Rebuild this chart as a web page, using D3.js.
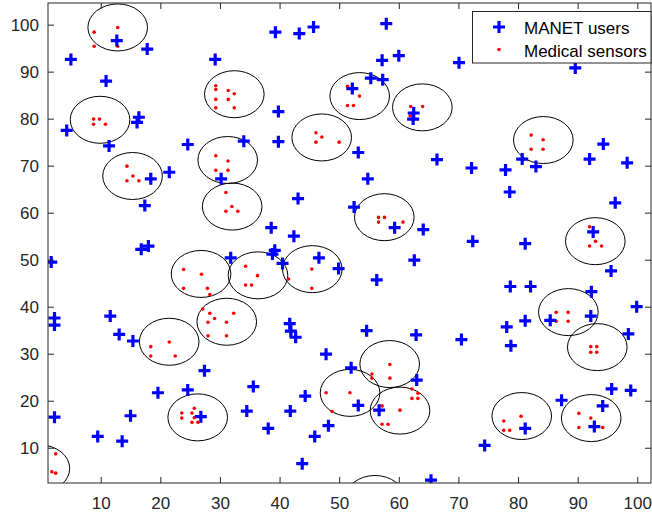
<!DOCTYPE html>
<html>
<head>
<meta charset="utf-8">
<script src="https://cdn.jsdelivr.net/npm/d3@7/dist/d3.min.js"></script>
<style>
  html, body { margin: 0; padding: 0; background: #fff; }
  svg { display: block; }
  text { font-family: "Liberation Sans", Arial, Helvetica, sans-serif; }
</style>
</head>
<body>
<svg id="chart" width="652" height="517"></svg>
<script>
// ---- data ----
const userX = [5.0,12.7,17.8,10.9,4.3,16.4,16.1,11.4,24.6,29.2,18.4,21.5,17.4,16.8,18.0,1.7,2.25,2.25,11.6,13.1,15.4,27.4,19.6,24.6,26.8,15.0,2.25,9.5,13.6,
  39.3,43.3,45.7,57.9,57.2,60.0,55.3,57.3,52.2,34.0,39.8,39.8,62.5,62.4,53.2,54.8,30.2,70.1,89.6,66.4,72.2,77.9,80.7,83.0,92.0,94.3,98.3,
  43.1,52.5,59.3,38.6,42.4,39.2,38.8,31.8,40.5,46.6,49.9,56.3,62.6,41.7,41.9,42.7,54.6,62.9,78.6,96.3,64.1,72.4,81.2,92.6,95.6,78.7,82.1,92.3,99.9,
  92.2,85.4,81.2,78.1,98.5,70.5,78.8,95.7,98.9,87.3,94.2,92.8,81.2,74.4,65.4,63.0,47.8,52.0,35.6,44.3,53.2,56.7,34.5,41.8,38.1,48.2,45.9,43.8];
const userY = [92.6,96.6,94.8,88.0,77.5,80.3,79.2,74.2,74.5,92.6,67.2,68.6,61.5,52.2,52.9,49.5,37.6,36.1,38.0,34.1,32.7,26.4,21.7,22.3,16.6,16.8,16.5,12.4,11.4,
  98.4,98.1,99.5,100.2,92.4,93.4,88.6,88.3,86.4,75.2,81.5,75.1,81.2,79.9,72.8,67.2,67.2,91.9,90.8,71.3,69.5,69.1,71.4,69.8,71.4,74.6,70.6,
  63.0,61.2,56.8,56.8,55.0,52.0,51.2,50.4,49.2,50.4,48.1,45.7,49.9,36.4,34.8,33.5,34.9,34.0,64.4,62.1,56.4,53.9,53.4,55.9,47.6,44.3,44.3,43.2,40.0,
  38.0,37.1,37.0,35.7,34.2,33.0,31.7,22.5,22.2,20.1,18.9,14.5,14.1,10.5,3.1,24.4,29.9,27.0,23.0,21.0,19.0,18.0,17.8,17.8,14.1,14.7,12.4,6.6];

const sensorX = [8.9,12.85,8.9,12.85, 8.8,9.8,8.8,10.8, 14.4,15.4,14.4,16.4,
  29.3,29.3,31.4,32.4,29.3,31.4,29.3,32.4, 29.3,31.35,29.3,31.35, 31.0,32.0,31.0,33.0,
  46.1,47.1,46.1,50.0, 51.4,53.4,51.4,52.4, 62.0,64.0,61.9, 82.2,84.2,82.2,84.2,
  56.6,57.6,56.6,60.7, 23.9,26.9,23.9,27.9,28.3, 34.3,36.3,34.3,35.3, 41.5,45.4,45.4,
  27.1,28.3,29.1,28.0,32.3,31.1,28.0,31.1, 18.4,21.5,18.4,22.5,
  23.6,25.7,23.6,25.3,25.7,25.3,26.3, 2.45,1.8,2.45, 47.8,51.8,48.8,
  58.5,55.5,55.5,58.5, 57.2,60.2,57.2,58.2,62.2,63.2,62.2,63.2,
  80.5,77.6,77.6,78.6, 90.2,92.2,90.2,94.2, 92.2,93.2,92.2,93.2,
  86.4,88.4,86.4,88.4, 92.0,93.0,92.0,94.0];
const sensorY = [98.4,99.4,95.4,95.4, 79.9,79.9,78.8,78.8, 69.9,67.8,66.8,66.8,
  87.0,86.2,86.0,85.3,84.1,84.1,82.3,82.3, 72.1,71.0,69.0,69.0, 64.3,61.3,60.3,60.3,
  77.0,76.1,75.0,75.0, 86.9,84.8,82.8,82.8, 82.6,82.6,80.6, 76.5,75.5,73.5,73.5,
  59.0,59.0,58.0,58.0, 47.9,46.9,43.9,43.9,42.6, 48.6,46.6,44.6,44.6, 45.9,48.0,43.9,
  39.5,38.6,37.5,36.7,38.6,36.7,33.8,33.8, 31.5,32.5,29.5,29.5,
  17.4,18.4,16.3,17.4,16.4,15.4,15.4, 8.7,4.9,4.6, 21.7,21.7,17.7,
  27.7,25.7,24.8,24.8, 18.9,18.0,15.0,15.0,22.5,21.6,20.5,20.5,
  16.7,15.7,13.7,13.7, 17.3,16.3,14.3,14.3, 31.5,31.5,30.3,30.3,
  38.8,38.8,36.9,36.9, 57.0,53.9,52.9,52.9];

const circleX = [12.85,9.89,15.34,32.41,31.3,32.05,47.07,53.44,63.95,84.24,57.57,26.83,36.38,45.49,31.14,21.49,26.27,-0.2,51.82,58.47,60.2,56.0,80.62,92.27,93.29,88.44,92.96];
const circleY = [99.4,79.76,67.8,85.2,71.2,61.3,76.0,84.8,82.4,75.45,59.04,46.97,46.67,47.99,36.8,32.54,16.46,5.6,21.67,27.8,17.9,-0.9,16.74,16.31,31.4,38.85,53.94];
const circleRadius = 5;

const xTicks = [10,20,30,40,50,60,70,80,90,100];
const yTicks = [10,20,30,40,50,60,70,80,90,100];
const legendLabels = ["MANET users", "Medical sensors"];

// ---- layout ----
const L = 48, R = 651, T = 3, B = 483;
const x = d3.scaleLinear().domain([1.16, 102.3]).range([L, R]);
const y = d3.scaleLinear().domain([2.5, 104.6]).range([B, T]);
const axisColor = "#262626";

const svg = d3.select("#chart");

svg.append("defs").append("clipPath").attr("id", "clip")
  .append("rect").attr("x", L).attr("y", T).attr("width", R - L).attr("height", B - T);

const plot = svg.append("g").attr("clip-path", "url(#clip)");

const rx = x(circleRadius) - x(0);
const ry = y(0) - y(circleRadius);

plot.selectAll("ellipse.c").data(circleX.map((d, i) => [d, circleY[i]]))
  .enter().append("ellipse")
  .attr("cx", d => x(d[0])).attr("cy", d => y(d[1]))
  .attr("rx", rx).attr("ry", ry)
  .attr("fill", "none").attr("stroke", "#000").attr("stroke-width", 1);

plot.selectAll("circle.s").data(sensorX.map((d, i) => [d, sensorY[i]]))
  .enter().append("circle")
  .attr("cx", d => x(d[0])).attr("cy", d => y(d[1]))
  .attr("r", 1.8).attr("fill", "#ff0000");

const plusPath = "M-6,0H6M0,-6V6";
plot.selectAll("path.u").data(userX.map((d, i) => [d, userY[i]]))
  .enter().append("path")
  .attr("d", plusPath)
  .attr("transform", d => `translate(${x(d[0])},${y(d[1])})`)
  .attr("stroke", "#0000ff").attr("stroke-width", 3.2).attr("fill", "none");

// ---- axes (MATLAB style box with inward ticks) ----
const tickLen = 6;
const axes = svg.append("g");
axes.append("rect").attr("x", L).attr("y", T).attr("width", R - L).attr("height", B - T)
  .attr("fill", "none").attr("stroke", axisColor).attr("stroke-width", 1);

const bottomAxis = d3.axisBottom(x).tickValues(xTicks).tickSize(-tickLen).tickPadding(14).tickFormat(d3.format("d"));
const gB = axes.append("g").attr("transform", `translate(0,${B})`).call(bottomAxis);
const topAxis = d3.axisTop(x).tickValues(xTicks).tickSize(-tickLen).tickFormat("");
const gT = axes.append("g").attr("transform", `translate(0,${T})`).call(topAxis);
const leftAxis = d3.axisLeft(y).tickValues(yTicks).tickSize(-tickLen).tickPadding(9).tickFormat(d3.format("d"));
const gL = axes.append("g").attr("transform", `translate(${L},0)`).call(leftAxis);
const rightAxis = d3.axisRight(y).tickValues(yTicks).tickSize(-tickLen).tickFormat("");
const gR = axes.append("g").attr("transform", `translate(${R},0)`).call(rightAxis);

[gB, gT, gL, gR].forEach(g => {
  g.select(".domain").remove();
  g.selectAll(".tick line").attr("stroke", axisColor).attr("stroke-width", 1);
  g.selectAll(".tick text").attr("fill", axisColor).style("font-size", "17px")
    .style("font-family", '"Liberation Sans", Arial, sans-serif');
});
gB.selectAll(".tick text").attr("dy", "0.71em");

// ---- legend ----
const lg = svg.append("g");
lg.append("rect").attr("x", 472.5).attr("y", 11.5).attr("width", 178.5).attr("height", 51.5)
  .attr("fill", "#fff").attr("stroke", axisColor).attr("stroke-width", 1);
lg.append("path").attr("d", plusPath).attr("transform", "translate(499,27)")
  .attr("stroke", "#0000ff").attr("stroke-width", 3.2).attr("fill", "none");
lg.append("circle").attr("cx", 499).attr("cy", 49.5).attr("r", 1.8).attr("fill", "#ff0000");
lg.selectAll("text.lt").data(legendLabels).enter().append("text")
  .attr("x", 524).attr("y", (d, i) => 33.5 + i * 23)
  .attr("fill", "#000").style("font-size", "17px")
  .text(d => d);
</script>
</body>
</html>
